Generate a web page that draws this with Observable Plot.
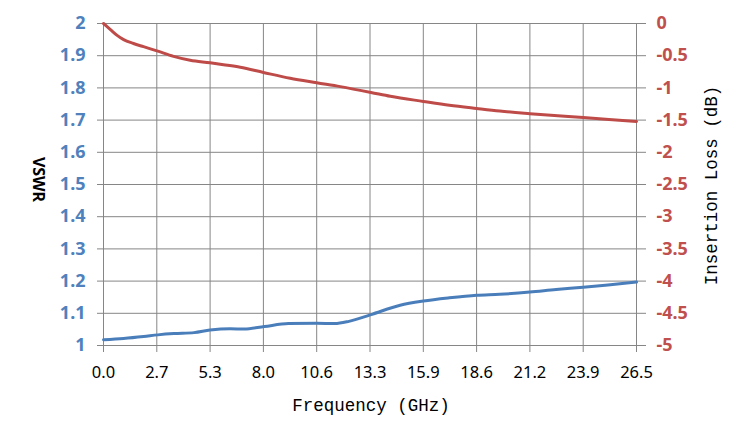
<!DOCTYPE html>
<html>
<head>
<meta charset="utf-8">
<script src="https://cdn.jsdelivr.net/npm/d3@7"></script>
<script src="https://cdn.jsdelivr.net/npm/@observablehq/plot@0.6"></script>
<style>
  html, body { margin: 0; padding: 0; background: #fff; }
</style>
</head>
<body>
<div id="chart"></div>
<script>
// ---- Data ----
const xTicks = [0, 2.65, 5.3, 7.95, 10.6, 13.25, 15.9, 18.55, 21.2, 23.85, 26.5];
const xTickLabels = ["0.0", "2.7", "5.3", "8.0", "10.6", "13.3", "15.9", "18.6", "21.2", "23.9", "26.5"];
const vswrTicks = [1, 1.1, 1.2, 1.3, 1.4, 1.5, 1.6, 1.7, 1.8, 1.9, 2];
const lossTicks = [-5, -4.5, -4, -3.5, -3, -2.5, -2, -1.5, -1, -0.5, 0];

const vswrFreq = [0, 1.0, 2.0, 2.7, 3.5, 4.5, 5.3, 6.3, 7.0, 8.0, 9.2, 10.6, 11.5, 12.2, 13.3, 14.75, 15.9, 17.2, 18.55, 19.7, 21.2, 22.5, 23.85, 25.2, 26.5];
const vswrValues = [1.018, 1.022, 1.028, 1.033, 1.037, 1.040, 1.048, 1.052, 1.051, 1.059, 1.068, 1.069, 1.068, 1.075, 1.096, 1.125, 1.138, 1.148, 1.156, 1.159, 1.166, 1.174, 1.181, 1.189, 1.197];

const lossFreq = [0, 0.33, 0.66, 1.0, 1.49, 1.99, 2.7, 3.48, 4.31, 5.3, 5.97, 6.8, 7.95, 9.28, 10.6, 11.77, 13.3, 14.26, 15.9, 17.2, 18.55, 19.7, 21.2, 23.85, 26.5];
const lossValues = [0, -0.09, -0.18, -0.25, -0.31, -0.36, -0.43, -0.51, -0.57, -0.61, -0.64, -0.68, -0.76, -0.85, -0.92, -0.98, -1.07, -1.13, -1.21, -1.27, -1.32, -1.36, -1.40, -1.46, -1.52];

// map insertion loss (0..-5 dB) onto the VSWR scale (2..1)
const toV = db => 2 + db / 5;
const vswrData = vswrFreq.map((f, i) => ({f, v: vswrValues[i]}));
const lossData = lossFreq.map((f, i) => ({f, v: toV(lossValues[i])}));

const grid = "#868686";
const blueLine = "#4A7EBB", blueText = "#4F81BD";
const redLine = "#BE4B48", redText = "#C0504D";
const tickFont = "Noto Sans";
const monoFont = "Liberation Mono";

const chart = Plot.plot({
  width: 749,
  height: 444,
  marginLeft: 103,
  marginRight: 113,
  marginTop: 23,
  marginBottom: 99,
  style: {background: "#fff", overflow: "visible"},
  x: {domain: [0, 26.5]},
  y: {domain: [1, 2]},
  marks: [
    Plot.gridX(xTicks, {stroke: grid, strokeOpacity: 1, strokeWidth: 1}),
    Plot.gridY(vswrTicks, {stroke: grid, strokeOpacity: 1, strokeWidth: 1}),
    Plot.axisX(xTicks, {
      label: null, tickSize: 7, tickPadding: 14,
      stroke: grid, fill: "#000",
      tickFormat: d => xTickLabels[xTicks.indexOf(d)],
      fontSize: 16.5, fontFamily: tickFont
    }),
    Plot.axisY(vswrTicks, {
      anchor: "left", label: null, tickSize: 6, tickPadding: 12,
      stroke: grid, fill: blueText,
      tickFormat: d => String(Math.round(d * 10) / 10),
      fontSize: 18, fontWeight: "bold", fontFamily: tickFont
    }),
    Plot.axisY(lossTicks.map(toV), {
      anchor: "right", label: null, tickSize: 9, tickPadding: 11,
      stroke: grid, fill: redText,
      tickFormat: d => String(Math.round((d - 2) * 50) / 10),
      fontSize: 18, fontWeight: "bold", fontFamily: tickFont
    }),
    Plot.line(lossData, {x: "f", y: "v", stroke: redLine, strokeWidth: 3, curve: "monotone-x"}),
    Plot.line(vswrData, {x: "f", y: "v", stroke: blueLine, strokeWidth: 3, curve: "monotone-x"}),
    Plot.text(["VSWR"], {
      text: d => d, frameAnchor: "left", dx: -65, dy: -5, rotate: 90,
      fontSize: 16, fontWeight: "bold", fontFamily: tickFont, fill: "#000",
      textAnchor: "middle", lineAnchor: "middle"
    }),
    Plot.text(["Insertion Loss (dB)"], {
      text: d => d, frameAnchor: "right", dx: 75, dy: 1, rotate: -90,
      fontSize: 17.5, fontFamily: monoFont, fill: "#000",
      textAnchor: "middle", lineAnchor: "middle"
    }),
    Plot.text(["Frequency (GHz)"], {
      text: d => d, frameAnchor: "bottom", dx: 1, dy: 60,
      fontSize: 17.5, fontFamily: monoFont, fill: "#000",
      textAnchor: "middle", lineAnchor: "middle"
    })
  ]
});
document.getElementById("chart").appendChild(chart);
</script>
</body>
</html>
